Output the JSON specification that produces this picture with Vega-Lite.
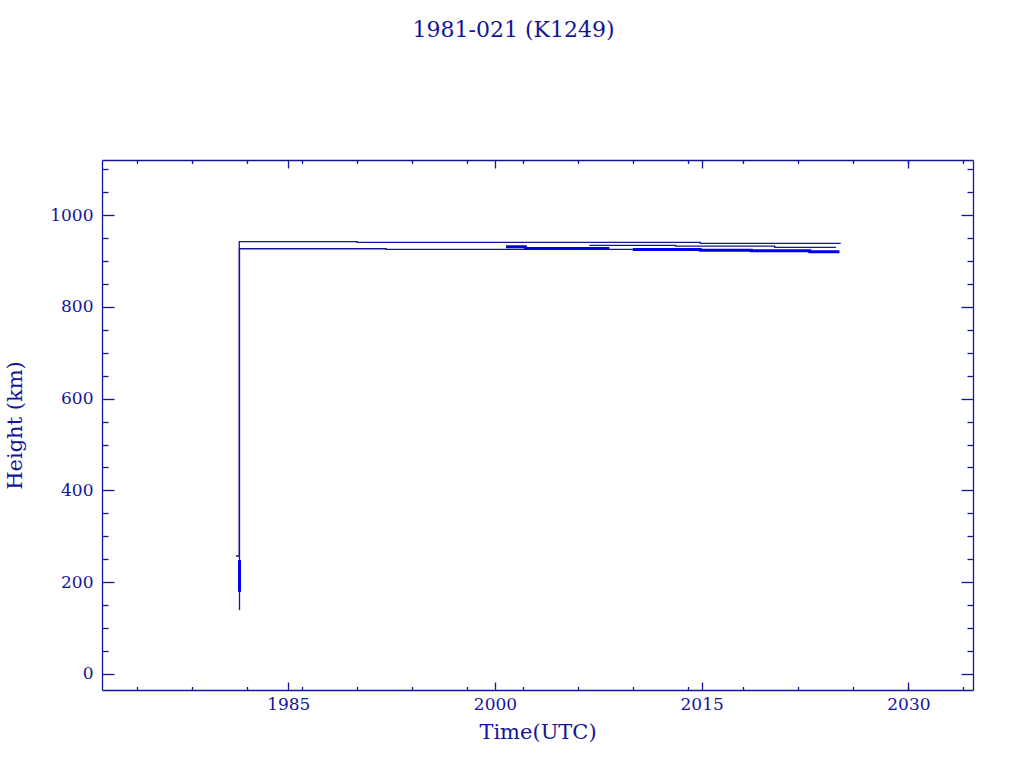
{
  "$schema": "https://vega.github.io/schema/vega-lite/v6.json",
  "width": 871,
  "height": 530,
  "autosize": "none",
  "padding": {"left": 102, "top": 160, "right": 51, "bottom": 78},
  "background": "white",
  "title": {
    "text": "1981-021 (K1249)",
    "font": "DejaVu Serif",
    "fontSize": 22,
    "fontWeight": "normal",
    "color": "#14149b",
    "anchor": "middle",
    "frame": "group",
    "baseline": "alphabetic",
    "offset": 100,
    "dx": -24
  },
  "config": {
    "view": {"stroke": null},
    "axis": {
      "grid": false,
      "domainColor": "#14149b",
      "tickColor": "#14149b",
      "labelColor": "#14149b",
      "titleColor": "#14149b",
      "labelFont": "DejaVu Serif",
      "labelFontSize": 17,
      "titleFont": "DejaVu Serif",
      "titleFontSize": 21,
      "titleFontWeight": "normal",
      "domainWidth": 1.3,
      "tickWidth": 1.3
    }
  },
  "datasets": {
    "apogee": [
      {"year": 1981.20, "km": 257},
      {"year": 1981.44, "km": 942},
      {"year": 1990.0, "km": 940.5},
      {"year": 2014.9, "km": 938.3},
      {"year": 2025.09, "km": 938.3}
    ],
    "perigee": [
      {"year": 1981.44, "km": 140},
      {"year": 1981.46, "km": 926.6},
      {"year": 1992.09, "km": 925.3},
      {"year": 2014.9, "km": 925.3}
    ],
    "middle": [
      {"year": 2006.84, "km": 934.0},
      {"year": 2013.11, "km": 932.5},
      {"year": 2020.3, "km": 929.6},
      {"year": 2024.74, "km": 929.6}
    ],
    "thick": [
      {"seg": "launch", "year": 1981.46, "km": 248},
      {"seg": "launch", "year": 1981.46, "km": 179},
      {"seg": "a", "year": 2000.8, "km": 931.0},
      {"seg": "a", "year": 2002.2, "km": 931.0},
      {"seg": "a", "year": 2002.2, "km": 927.4},
      {"seg": "a", "year": 2008.3, "km": 927.4},
      {"seg": "b", "year": 2010.0, "km": 924.8},
      {"seg": "b", "year": 2014.9, "km": 924.8},
      {"seg": "b", "year": 2014.9, "km": 923.5},
      {"seg": "b", "year": 2018.6, "km": 923.5},
      {"seg": "b", "year": 2018.6, "km": 922.0},
      {"seg": "b", "year": 2022.85, "km": 922.0},
      {"seg": "b", "year": 2022.85, "km": 919.8},
      {"seg": "b", "year": 2025.0, "km": 919.8}
    ]
  },
  "resolve": {
    "scale": {"x": "shared", "y": "shared"},
    "axis": {"x": "independent", "y": "independent"}
  },
  "layer": [
    {
      "data": {"name": "apogee"},
      "mark": {"type": "line", "interpolate": "step-after", "color": "#14149b", "strokeWidth": 1.3},
      "encoding": {
        "x": {
          "field": "year", "type": "quantitative",
          "scale": {"domain": [1971.48, 2034.69], "nice": false, "zero": false},
          "axis": {
            "orient": "bottom", "title": "Time(UTC)", "values": [1985, 2000, 2015, 2030],
            "format": "d", "tickSize": -8, "labelPadding": 14, "labelBaseline": "top",
            "titleX": 435.5, "titleY": 42, "titleBaseline": "middle", "titleAnchor": "middle"
          }
        },
        "y": {
          "field": "km", "type": "quantitative",
          "scale": {"domain": [-35, 1120], "nice": false, "zero": false},
          "axis": {
            "orient": "left", "title": "Height (km)", "values": [0, 200, 400, 600, 800, 1000],
            "format": "d", "tickSize": -12, "labelPadding": 21,
            "titleX": -87, "titleY": 265, "titleAngle": -90, "titleBaseline": "middle", "titleAnchor": "middle", "titleAlign": "center"
          }
        }
      }
    },
    {
      "data": {"name": "perigee"},
      "mark": {"type": "line", "interpolate": "step-after", "color": "#14149b", "strokeWidth": 1.3},
      "encoding": {
        "x": {
          "field": "year", "type": "quantitative",
          "axis": {
            "orient": "bottom", "title": null, "labels": false, "domain": false,
            "values": [1974, 1978, 1982, 1986, 1990, 1994, 1998, 2002, 2006, 2010, 2014, 2018, 2022, 2026, 2030, 2034],
            "tickSize": -3.5
          }
        },
        "y": {
          "field": "km", "type": "quantitative",
          "axis": {
            "orient": "left", "title": null, "labels": false, "domain": false,
            "values": [50, 100, 150, 250, 300, 350, 450, 500, 550, 650, 700, 750, 850, 900, 950, 1050, 1100],
            "tickSize": -6
          }
        }
      }
    },
    {
      "data": {"name": "middle"},
      "mark": {"type": "line", "interpolate": "step-after", "color": "#14149b", "strokeWidth": 1.3},
      "encoding": {
        "x": {
          "field": "year", "type": "quantitative",
          "axis": {
            "orient": "top", "title": null, "labels": false,
            "values": [1985, 2000, 2015, 2030], "tickSize": -8
          }
        },
        "y": {
          "field": "km", "type": "quantitative",
          "axis": {
            "orient": "right", "title": null, "labels": false,
            "values": [0, 200, 400, 600, 800, 1000], "tickSize": -12
          }
        }
      }
    },
    {
      "data": {"name": "thick"},
      "mark": {"type": "line", "color": "#0000e6", "strokeWidth": 3},
      "encoding": {
        "detail": {"field": "seg", "type": "nominal"},
        "x": {
          "field": "year", "type": "quantitative",
          "axis": {
            "orient": "top", "title": null, "labels": false, "domain": false,
            "values": [1974, 1978, 1982, 1986, 1990, 1994, 1998, 2002, 2006, 2010, 2014, 2018, 2022, 2026, 2030, 2034],
            "tickSize": -3.5
          }
        },
        "y": {
          "field": "km", "type": "quantitative",
          "axis": {
            "orient": "right", "title": null, "labels": false, "domain": false,
            "values": [50, 100, 150, 250, 300, 350, 450, 500, 550, 650, 700, 750, 850, 900, 950, 1050, 1100],
            "tickSize": -6
          }
        }
      }
    }
  ]
}
